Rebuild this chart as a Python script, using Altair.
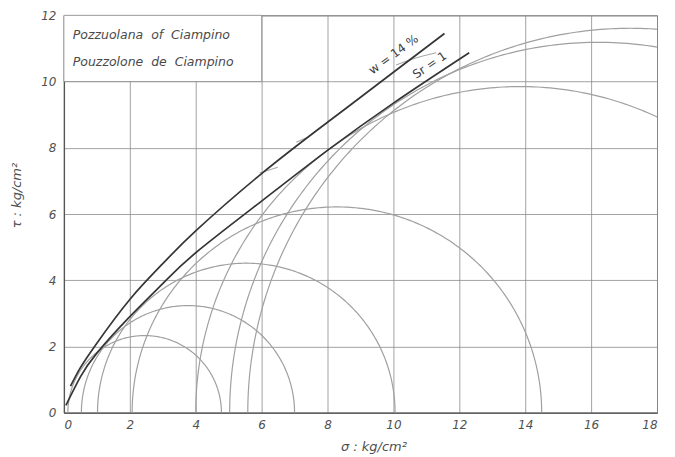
import altair as alt
import numpy as np
import pandas as pd

# Mohr circles: minor and major principal stresses (kg/cm2)
circle_s3 = [0.12, 0.53, 1.02, 2.07, 4.0, 5.03, 5.58]
circle_s1 = [4.78, 7.0, 10.05, 14.5, 23.7, 27.4, 28.8]

# failure envelopes
upper_x = [0.2, 0.5, 1.0, 2.0, 3.0, 4.0, 6.0, 8.0, 10.0, 11.55]
upper_y = [0.8, 1.36, 2.1, 3.42, 4.5, 5.49, 7.22, 8.77, 10.28, 11.45]
lower_x = [0.06, 0.5, 1.0, 2.0, 3.0, 4.0, 6.0, 8.0, 10.0, 12.3]
lower_y = [0.22, 1.08, 1.8, 2.9, 3.9, 4.83, 6.39, 7.92, 9.35, 10.87]

# short faint arc pieces near the upper envelope
seg_id = [1, 1, 2, 2, 3, 3, 3]
seg_x = [5.94, 6.49, 7.05, 7.4, 10.08, 10.7, 11.3]
seg_y = [7.24, 7.41, 8.17, 8.32, 10.5, 10.72, 10.87]

x_ticks = [0, 2, 4, 6, 8, 10, 12, 14, 16, 18]
y_ticks = [0, 2, 4, 6, 8, 10, 12]

NB = "\u00a0"
title_lines = [f"Pozzuolana{NB}{NB}of{NB}{NB}Ciampino", f"Pouzzolone{NB}{NB}de{NB}{NB}Ciampino"]
title_x = [0.27, 0.27]
title_y = [11.4, 10.6]

rows = []
for i, (a, b) in enumerate(zip(circle_s3, circle_s1)):
    c = (a + b) / 2
    r = (b - a) / 2
    for t in np.linspace(np.pi, 0, 241):
        rows.append({"c": i, "s": c + r * np.cos(t), "t": r * np.sin(t), "o": float(np.pi - t)})
circles = pd.DataFrame(rows)

env = pd.concat([
    pd.DataFrame({"s": upper_x, "t": upper_y, "k": "upper"}),
    pd.DataFrame({"s": lower_x, "t": lower_y, "k": "lower"}),
])
segs = pd.DataFrame({"id": seg_id, "s": seg_x, "t": seg_y})

xs = alt.Scale(domain=[0, 18], nice=False, zero=False)
ys = alt.Scale(domain=[0, 12], nice=False, zero=False)

FONT = "DejaVu Sans"

base_x = alt.X("s:Q", scale=xs, axis=alt.Axis(
    values=x_ticks, grid=True, gridColor="#8a8a8a", gridWidth=0.8,
    ticks=False, labelPadding=7, labelFontSize=12, labelFontStyle="italic",
    labelFont=FONT, labelColor="#505050", domainColor="#555", domainWidth=1.3,
    title="σ : kg/cm²", titleFont=FONT, titleFontStyle="italic", titleFontWeight="normal",
    titleFontSize=13, titleColor="#505050", titleX=310, titleY=38, titleAlign="center",
    titleBaseline="alphabetic"))
base_y = alt.Y("t:Q", scale=ys, axis=alt.Axis(
    values=y_ticks, grid=True, gridColor="#8a8a8a", gridWidth=0.8,
    ticks=False, labelPadding=8, labelFontSize=12, labelFontStyle="italic",
    labelFont=FONT, labelColor="#505050", domainColor="#555", domainWidth=1.3,
    title="τ : kg/cm²", titleFont=FONT, titleFontStyle="italic", titleFontWeight="normal",
    titleFontSize=13, titleColor="#505050", titleX=-40, titleY=180, titleAngle=270,
    titleAlign="center"))

circ = alt.Chart(circles).mark_line(color="#a0a0a0", strokeWidth=1.2, clip=True).encode(
    x=base_x, y=base_y, detail="c:N", order="o:Q")

box_df = pd.DataFrame({"x0": [0], "x1": [6], "y0": [10], "y1": [12]})
box = alt.Chart(box_df).mark_rect(fill="white", stroke="#8a8a8a", strokeWidth=0.8).encode(
    x=alt.X("x0:Q", scale=xs), x2="x1", y=alt.Y("y0:Q", scale=ys), y2="y1")

envl = alt.Chart(env).mark_line(color="#353535", strokeWidth=1.7, interpolate="natural").encode(
    x=alt.X("s:Q", scale=xs), y=alt.Y("t:Q", scale=ys), detail="k:N")

segl = alt.Chart(segs).mark_line(color="#a8a8a8", strokeWidth=1.1, interpolate="monotone").encode(
    x=alt.X("s:Q", scale=xs), y=alt.Y("t:Q", scale=ys), detail="id:N")

titles = alt.Chart(pd.DataFrame({"x": title_x, "y": title_y, "txt": title_lines})).mark_text(
    align="left", baseline="middle", font=FONT, fontStyle="italic", fontSize=12.5, color="#4a4a4a"
).encode(x=alt.X("x:Q", scale=xs), y=alt.Y("y:Q", scale=ys), text="txt:N")

lab_df = pd.DataFrame({"x": [10.0, 11.1], "y": [10.82, 10.5], "txt": ["w = 14 %", "Sr = 1"],
                       "a": [323.5, 325.5]})
labs = alt.Chart(lab_df).mark_text(
    align="center", baseline="middle", font=FONT, fontSize=12, color="#404040"
).encode(x=alt.X("x:Q", scale=xs), y=alt.Y("y:Q", scale=ys), text="txt:N",
         angle=alt.Angle("a:Q", scale=None))

chart = alt.layer(circ, box, segl, envl, titles, labs).properties(
    width=594, height=398,
    autosize=alt.AutoSizeParams(type="none"),
    padding={"left": 56, "top": 7, "right": 10, "bottom": 43},
    background="white",
).configure_view(stroke="#777", strokeWidth=1)

chart.save("out.html", embed_options={"renderer": "svg", "actions": False})
